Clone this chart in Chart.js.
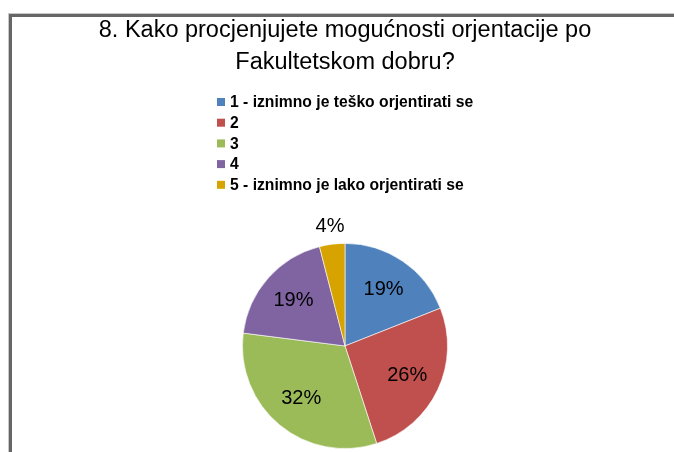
<!DOCTYPE html>
<html>
<head>
<meta charset="utf-8">
<script src="https://cdn.jsdelivr.net/npm/chart.js@4/dist/chart.umd.min.js"></script>
<style>
html,body{margin:0;padding:0;background:#fff;}
#wrap{width:674px;height:452px;position:relative;}
</style>
</head>
<body>
<div id="wrap"><canvas id="c" width="674" height="452"></canvas></div>
<script>
const titleLines = ["8. Kako procjenjujete mogućnosti orjentacije po", "Fakultetskom dobru?"];
const categories = ["1 - iznimno je teško orjentirati se", "2", "3", "4", "5 - iznimno je lako orjentirati se"];
const percentValues = [19, 26, 32, 19, 4];
const sliceColors = ["#4F81BD", "#C0504D", "#9BBB59", "#8064A2", "#D6A300"];

const FONT = "'Liberation Sans', Arial, sans-serif";

const framePlugin = {
  id: 'frame',
  beforeDraw(chart) {
    const ctx = chart.ctx;
    ctx.save();
    ctx.fillStyle = '#ffffff';
    ctx.fillRect(0, 0, chart.width, chart.height);
    ctx.fillStyle = '#c8c8c8';
    ctx.fillRect(9, 13, chart.width - 9, 1);
    ctx.fillRect(8, 13, 1, chart.height - 13);
    ctx.fillStyle = '#666666';
    ctx.fillRect(9, 14, chart.width - 9, 3);
    ctx.fillRect(9, 14, 3, chart.height - 14);
    ctx.restore();
  }
};

const legendPlugin = {
  id: 'customLegend',
  afterDraw(chart) {
    const ctx = chart.ctx;
    const labels = chart.data.labels;
    const colors = chart.data.datasets[0].backgroundColor;
    ctx.save();
    ctx.font = "bold 15.7px " + FONT;
    ctx.textBaseline = 'middle';
    ctx.textAlign = 'left';
    labels.forEach((lab, i) => {
      const y = 102 + i * 20.7;
      ctx.fillStyle = colors[i];
      ctx.fillRect(217, y - 4, 8, 8);
      ctx.fillStyle = '#000000';
      ctx.fillText(lab, 230, y + 1);
    });
    ctx.restore();
  }
};

const dataLabelPlugin = {
  id: 'sliceLabels',
  afterDatasetsDraw(chart) {
    const ctx = chart.ctx;
    const meta = chart.getDatasetMeta(0);
    const vals = chart.data.datasets[0].data;
    const total = vals.reduce((a, b) => a + b, 0);
    ctx.save();
    ctx.font = "20px " + FONT;
    ctx.fillStyle = '#000000';
    ctx.textAlign = 'center';
    ctx.textBaseline = 'middle';
    meta.data.forEach((arc, i) => {
      const p = arc.getProps(['x', 'y', 'startAngle', 'endAngle', 'outerRadius'], true);
      const mid = (p.startAngle + p.endAngle) / 2;
      const pct = vals[i] / total * 100;
      const r = pct < 10 ? p.outerRadius * 1.17 : p.outerRadius * 0.67;
      ctx.fillText(Math.round(pct) + '%', p.x + Math.cos(mid) * r, p.y + Math.sin(mid) * r);
    });
    ctx.restore();
  }
};

new Chart(document.getElementById('c'), {
  type: 'pie',
  data: {
    labels: categories,
    datasets: [{
      data: percentValues,
      backgroundColor: sliceColors,
      borderColor: 'rgba(255,255,255,0.6)',
      borderWidth: 1
    }]
  },
  options: {
    responsive: false,
    animation: false,
    layout: { padding: { top: 0, bottom: 3, left: 16, right: 0 } },
    plugins: {
      legend: { display: false },
      tooltip: { enabled: false },
      title: {
        display: true,
        text: titleLines,
        color: '#000000',
        font: { family: FONT, size: 23.5, weight: 'normal', lineHeight: 1.36 },
        padding: { top: 15, bottom: 164 }
      }
    }
  },
  plugins: [framePlugin, legendPlugin, dataLabelPlugin]
});
</script>
</body>
</html>
